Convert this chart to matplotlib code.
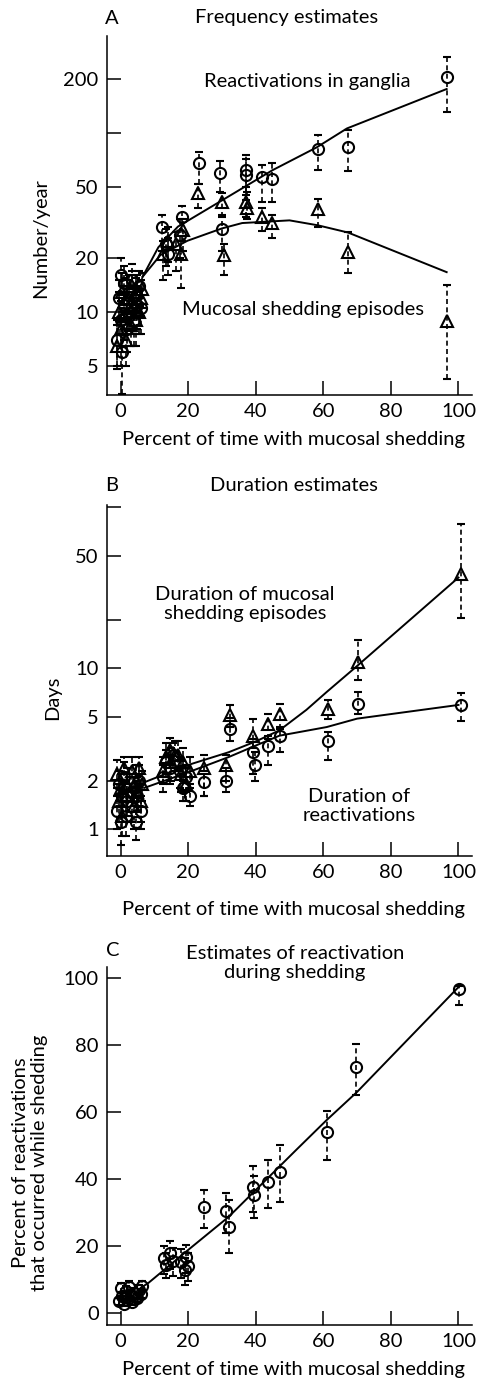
import numpy as np
import matplotlib
matplotlib.use('Agg')
import matplotlib.pyplot as plt
from matplotlib.ticker import FixedLocator, FixedFormatter, NullLocator

plt.rcParams['font.family'] = ['Lato', 'DejaVu Sans']

W, H = 478, 1383
FS = 14.5

# ---- Panel A: frequency estimates (number/year) ----
a_circ_x = [-1.0, -0.5, 0.0, 0.0, 0.5, 1.0, 1.0, 2.0, 2.5, 3.0, 3.5, 4.0, 4.5, 5.0, 5.5, 6.0,
            12.4, 13.5, 14.0, 17.5, 18.3, 23.3, 29.5, 30.1, 37.2, 37.0, 41.9, 44.8, 58.4, 67.3, 96.5]
a_circ_y = [7.0, 12.0, 9.0, 16.0, 6.0, 11.0, 14.5, 8.0, 13.0, 10.0, 15.0, 9.0, 12.5, 11.0, 14.0, 10.5,
            30, 24, 21, 27, 34, 68, 60, 29, 62, 58, 57, 55, 81, 83, 205]
a_circ_lo = [5.0, 9.0, 6.5, 12.5, 3.5, 8.0, 11.0, 6.0, 10.0, 7.5, 12.0, 6.5, 9.5, 8.0, 10.5, 7.5,
             22, 18, 16, 20, 25, 52, 47, 22, 45, 42, 41, 41, 62, 61, 131]
a_circ_hi = [9.0, 15.0, 11.5, 20.0, 7.5, 14.0, 18.0, 10.0, 16.0, 13.0, 18.5, 11.5, 15.5, 14.0, 17.0, 13.5,
             35, 29, 26, 33, 39, 78, 70, 35, 75, 72, 66, 68, 98, 104, 265]

a_tri_x = [-1.0, -0.5, 0.0, 0.5, 1.0, 1.5, 2.0, 2.5, 3.0, 3.5, 4.0, 4.5, 5.0, 5.5, 6.0, 6.5,
           12.7, 14.0, 16.5, 18.0, 18.6, 23.0, 30.0, 30.5, 37.2, 37.5, 41.9, 44.8, 58.4, 67.3, 96.5]
a_tri_y = [6.5, 10.0, 8.0, 13.0, 9.5, 7.0, 12.0, 10.5, 8.5, 14.0, 11.0, 9.0, 13.0, 10.0, 12.0, 13.5,
           21, 25, 24, 21, 28.6, 46, 41, 20.8, 41, 38, 34, 31.4, 37.6, 21.6, 8.9]
a_tri_lo = [4.8, 7.5, 5.0, 10.0, 7.0, 5.0, 9.0, 8.0, 6.5, 11.0, 8.0, 6.5, 10.0, 7.5, 9.5, 10.5,
            15, 19, 17, 13.6, 22, 38, 34, 16, 34, 33, 28.5, 26, 30, 16.5, 4.2]
a_tri_hi = [8.5, 13.0, 10.5, 16.5, 12.5, 9.0, 15.0, 13.5, 11.0, 17.0, 14.0, 11.5, 16.0, 13.0, 15.0, 16.5,
            25, 30, 28, 25, 33, 52, 46, 24, 50, 47, 38, 35, 43, 28, 14.1]

a_fit_react_x = [6.5, 11.2, 17, 30, 45, 58, 67, 96.5]
a_fit_react_y = [15.7, 23, 30, 42, 62, 83, 106, 176]
a_fit_shed_x = [6.5, 11.8, 19.8, 30, 36, 50, 58.4, 67.3, 96.5]
a_fit_shed_y = [15.7, 20.8, 25, 29.3, 31.4, 32.5, 30.5, 27.8, 16.7]

a_ticks = [5, 10, 20, 50, 100, 200]
a_ticklabels = ['5', '10', '20', '50', '', '200']

# ---- Panel B: duration estimates (days) ----
b_circ_x = [-1.0, -0.5, 0.0, 0.5, 1.0, 1.5, 2.0, 3.5, 4.0, 4.5, 5.0, 5.5, 6.0,
            12.5, 13.5, 14.5, 15.5, 17.5, 18.5, 19.5, 20.5,
            24.8, 31.2, 32.4, 39.3, 39.8, 43.7, 47.2, 61.4, 70.3, 100.6]
b_circ_y = [1.3, 1.9, 1.1, 1.6, 2.1, 1.2, 1.5, 1.4, 1.8, 1.1, 1.6, 2.0, 1.3,
            2.1, 2.6, 2.4, 2.9, 2.3, 1.8, 2.1, 1.6,
            1.97, 2.0, 4.2, 3.0, 2.5, 3.3, 3.8, 3.5, 6.0, 5.9]
b_circ_lo = [1.0, 1.5, 0.8, 1.2, 1.7, 0.9, 1.2, 1.1, 1.4, 0.85, 1.3, 1.6, 1.0,
             1.7, 2.1, 1.9, 2.4, 1.8, 1.5, 1.7, 1.4,
             1.6, 1.7, 3.5, 2.2, 2.0, 2.5, 3.0, 2.7, 5.2, 4.7]
b_circ_hi = [1.6, 2.3, 1.4, 2.0, 2.6, 1.5, 1.9, 1.7, 2.2, 1.4, 2.0, 2.5, 1.6,
             2.5, 3.1, 2.9, 3.4, 2.8, 2.2, 2.5, 1.9,
             2.3, 2.4, 4.9, 3.6, 3.0, 3.8, 4.3, 4.0, 7.1, 7.0]

b_tri_x = [-1.0, -0.5, 0.0, 0.5, 1.0, 1.5, 2.0, 3.5, 4.0, 4.5, 5.0, 5.5, 6.0, 6.5,
           12.5, 13.5, 14.5, 15.0, 16.0, 17.0, 18.0, 18.5, 19.5, 20.5,
           24.8, 31.2, 32.4, 39.3, 43.7, 47.2, 61.4, 70.3, 100.6]
b_tri_y = [2.2, 1.5, 1.8, 1.2, 2.4, 1.6, 1.9, 2.3, 1.4, 2.0, 1.7, 2.4, 1.5, 1.9,
           2.3, 2.8, 3.1, 2.6, 2.9, 2.9, 2.2, 2.6, 1.9, 2.3,
           2.4, 2.5, 5.1, 3.8, 4.5, 5.2, 5.6, 10.9, 38.6]
b_tri_lo = [1.8, 1.1, 1.4, 0.9, 1.9, 1.2, 1.5, 1.8, 1.0, 1.6, 1.3, 1.9, 1.1, 1.5,
            1.9, 2.2, 2.5, 2.0, 2.3, 2.3, 1.7, 2.0, 1.5, 1.8,
            1.6, 2.0, 4.3, 3.2, 3.6, 4.2, 4.8, 8.4, 20.5]
b_tri_hi = [2.7, 1.9, 2.2, 1.5, 2.8, 2.0, 2.4, 2.8, 1.8, 2.5, 2.1, 2.8, 1.9, 2.3,
            2.8, 3.4, 3.7, 3.2, 3.5, 3.5, 2.7, 3.2, 2.4, 2.8,
            2.9, 2.9, 5.9, 4.8, 5.2, 6.0, 6.3, 15.0, 78]

b_fit_shed_x = [7, 20, 32, 40, 47, 55, 61, 70, 100]
b_fit_shed_y = [1.95, 2.5, 3.0, 3.5, 4.1, 5.5, 7.1, 10.3, 36.5]
b_fit_react_x = [7, 20, 32, 40, 47, 61, 70, 100]
b_fit_react_y = [1.8, 2.25, 2.8, 3.3, 3.8, 4.3, 4.85, 5.9]

b_ticks = [1, 2, 5, 10, 20, 50, 100]
b_ticklabels = ['1', '2', '5', '10', '', '50', '']

# ---- Panel C: reactivation during shedding (%) ----
c_circ_x = [-0.5, 0.0, 0.5, 1.0, 1.5, 2.0, 2.5, 3.0, 3.5, 4.0, 5.0, 5.5, 6.0, 6.5,
            13.0, 13.5, 14.5, 15.5, 18.0, 19.0, 19.5, 20.0,
            24.6, 31.2, 32.2, 39.3, 39.6, 43.7, 47.2, 61.0, 69.8, 100.3]
c_circ_y = [3.5, 7.5, 5.0, 2.8, 6.5, 4.0, 7.8, 5.5, 3.2, 6.0, 4.5, 7.0, 5.8, 8.0,
            16.4, 14.3, 17.9, 15.5, 15.2, 12.8, 16.7, 14.0,
            31.7, 30.4, 25.7, 37.7, 35.2, 39.0, 42.0, 54.0, 73.4, 96.7]
c_circ_lo = [2.5, 6.0, 3.8, 2.0, 5.0, 3.0, 6.2, 4.2, 2.4, 4.6, 3.4, 5.6, 4.4, 6.5,
             11.5, 10.4, 13.0, 11.0, 10.5, 8.4, 12.0, 9.5,
             25.4, 24.0, 18.0, 30.0, 28.4, 31.4, 33.0, 45.7, 65.0, 92.0]
c_circ_hi = [4.5, 9.0, 6.2, 3.6, 8.0, 5.0, 9.4, 6.8, 4.0, 7.4, 5.6, 8.4, 7.2, 9.5,
             20.0, 18.0, 21.5, 19.5, 19.0, 16.5, 20.3, 18.0,
             36.7, 35.8, 33.7, 44.0, 41.0, 45.7, 50.0, 60.3, 80.3, 97.5]

c_fit_x = [6, 8.3, 20, 32, 40, 52, 61, 70, 100]
c_fit_y = [7.5, 9.0, 18.8, 28.7, 36.7, 48.7, 57.6, 66, 97.3]

c_ticks = [0, 20, 40, 60, 80, 100]
x_ticks = [0, 20, 40, 60, 80, 100]
x_label = 'Percent of time with mucosal shedding'


def px(x, y):
    # pixel position -> figure fraction
    return x / W, 1 - y / H


def add_axes(left, top, right, bottom):
    l, t = px(left, top)
    r, b = px(right, bottom)
    ax = fig.add_axes([l, b, r - l, t - b])
    for s in ['top', 'right']:
        ax.spines[s].set_visible(False)
    for s in ['left', 'bottom']:
        ax.spines[s].set_linewidth(1.1)
    ax.tick_params(direction='in', length=10, width=1.1, labelsize=FS, pad=6)
    ax.set_xlim(-4, 104)
    ax.set_xticks(x_ticks)
    ax.set_xticklabels([str(v) for v in x_ticks])
    return ax


def draw_series(ax, x, y, lo, hi, marker):
    y = np.array(y, dtype=float)
    err = [y - np.array(lo), np.array(hi) - y]
    cont = ax.errorbar(x, y, yerr=err, fmt=marker, ms=8, mfc='none', mec='black', mew=1.5,
                       ecolor='black', elinewidth=1.2, capsize=3, capthick=2.4)
    cont[2][0].set_linestyle((0, (3, 2)))


def label(x, y, s, **kw):
    fig.text(*px(x, y), s, fontsize=FS, ha='center', va='center', color='black', **kw)


fig = plt.figure(figsize=(W / 100, H / 100), dpi=100)

# Panel A
ax = add_axes(107, 36, 472, 395)
ax.set_yscale('log')
ax.set_ylim(3.44, 348)
draw_series(ax, a_circ_x, a_circ_y, a_circ_lo, a_circ_hi, 'o')
draw_series(ax, a_tri_x, a_tri_y, a_tri_lo, a_tri_hi, '^')
ax.plot(a_fit_react_x, a_fit_react_y, color='black', lw=1.4)
ax.plot(a_fit_shed_x, a_fit_shed_y, color='black', lw=1.4)
ax.yaxis.set_major_locator(FixedLocator(a_ticks))
ax.yaxis.set_major_formatter(FixedFormatter(a_ticklabels))
ax.yaxis.set_minor_locator(NullLocator())
label(112, 18, 'A')
label(287, 18, 'Frequency estimates')
label(307, 82, 'Reactivations in ganglia')
label(303, 310, 'Mucosal shedding episodes')
label(41, 238, 'Number/year', rotation=90)
label(294, 440, x_label)

# Panel B
ax = add_axes(107, 505, 472, 856)
ax.set_yscale('log')
ax.set_ylim(0.68, 103)
draw_series(ax, b_circ_x, b_circ_y, b_circ_lo, b_circ_hi, 'o')
draw_series(ax, b_tri_x, b_tri_y, b_tri_lo, b_tri_hi, '^')
ax.plot(b_fit_shed_x, b_fit_shed_y, color='black', lw=1.4)
ax.plot(b_fit_react_x, b_fit_react_y, color='black', lw=1.4)
ax.yaxis.set_major_locator(FixedLocator(b_ticks))
ax.yaxis.set_major_formatter(FixedFormatter(b_ticklabels))
ax.yaxis.set_minor_locator(NullLocator())
label(112, 485, 'B')
label(294, 485, 'Duration estimates')
label(245, 604, 'Duration of mucosal\nshedding episodes')
label(359, 806, 'Duration of\nreactivations')
label(53, 698, 'Days', rotation=90)
label(294, 910, x_label)

# Panel C
ax = add_axes(107, 967, 472, 1325)
ax.set_ylim(-3.6, 103.3)
draw_series(ax, c_circ_x, c_circ_y, c_circ_lo, c_circ_hi, 'o')
ax.plot(c_fit_x, c_fit_y, color='black', lw=1.4)
ax.yaxis.set_major_locator(FixedLocator(c_ticks))
label(113, 950, 'C')
label(295, 963, 'Estimates of reactivation\nduring shedding')
label(30, 1163, 'Percent of reactivations\nthat occurred while shedding', rotation=90)
label(294, 1370, x_label)

fig.savefig('out.png', dpi=100)
